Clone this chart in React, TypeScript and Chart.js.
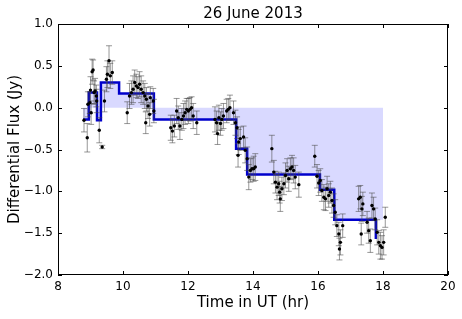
import React, { useEffect, useRef } from "react";
import { Chart, registerables } from "chart.js";

Chart.register(...registerables);

const TITLE = "26 June 2013";
const X_LABEL = "Time in UT (hr)";
const Y_LABEL = "Differential Flux (Jy)";
const X_TICKS = [8, 10, 12, 14, 16, 18, 20];
const Y_TICKS = [-2.0, -1.5, -1.0, -0.5, 0.0, 0.5, 1.0];

// measured points (hours UT, flux Jy, 1-sigma error)
const times = [
  8.80, 8.90, 8.92, 8.98, 9.00, 9.02, 9.05, 9.08, 9.11, 9.14,
  9.18, 9.19, 9.27, 9.36, 9.43, 9.49, 9.52, 9.57, 9.61, 9.67,
  10.13, 10.20, 10.26, 10.31, 10.36, 10.41, 10.46, 10.51, 10.56, 10.62,
  10.67, 10.70, 10.72, 10.77, 10.82, 10.84, 10.93, 10.95, 11.47, 11.52,
  11.58, 11.65, 11.70, 11.75, 11.81, 11.86, 11.91, 11.96, 12.01, 12.06,
  12.11, 12.16, 12.27, 12.83, 12.88, 12.91, 12.95, 13.00, 13.04, 13.09,
  13.19, 13.24, 13.29, 13.40, 13.46, 13.51, 13.54, 13.56, 13.61, 13.71,
  13.76, 13.82, 13.87, 13.92, 13.97, 14.02, 14.07, 14.58, 14.64, 14.69,
  14.74, 14.79, 14.82, 14.84, 14.89, 14.95, 15.00, 15.05, 15.10, 15.15,
  15.20, 15.25, 15.30, 15.41, 15.90, 15.97, 16.02, 16.07, 16.12, 16.18,
  16.23, 16.28, 16.33, 16.38, 16.43, 16.48, 16.53, 16.58, 16.64, 16.66,
  16.69, 16.76, 17.25, 17.30, 17.33, 17.35, 17.38, 17.51, 17.56, 17.61,
  17.66, 17.71, 17.76, 17.82, 17.87, 17.92, 17.97, 18.02, 18.07,
];
const flux = [
  -0.15, -0.36, 0.04, 0.06, 0.21, -0.06, 0.43, 0.45, 0.18, 0.20,
  0.14, 0.08, -0.27, -0.47, 0.08, 0.34, 0.40, 0.56, 0.38, 0.42,
  -0.06, 0.14, 0.18, 0.22, 0.30, 0.26, 0.24, 0.28, 0.22, 0.18,
  0.14, -0.18, 0.10, 0.02, -0.08, 0.12, 0.08, -0.04, -0.24, -0.28,
  -0.22, -0.04, -0.12, -0.22, -0.14, -0.10, -0.06, -0.02, -0.04, -0.02,
  0.00, -0.10, -0.18, -0.14, -0.18, -0.31, -0.12, -0.19, -0.14, -0.10,
  -0.04, -0.02, 0.00, -0.06, -0.18, -0.24, -0.57, -0.41, -0.37, -0.35,
  -0.51, -0.61, -0.83, -0.75, -0.73, -0.73, -0.71, -0.49, -0.77, -0.89,
  -0.95, -0.91, -1.01, -1.09, -0.97, -0.91, -0.81, -0.75, -0.85, -0.73,
  -0.71, -0.75, -0.83, -0.92, -0.58, -0.82, -0.90, -0.87, -0.99, -1.07,
  -1.09, -0.97, -1.05, -1.01, -1.11, -1.17, -1.25, -1.41, -1.51, -1.69,
  -1.61, -1.41, -1.09, -1.07, -1.51, -1.21, -1.15, -1.37, -1.47, -1.59,
  -1.17, -1.21, -1.33, -1.49, -1.61, -1.65, -1.67, -1.61, -1.31,
];
const fluxErr = [
  0.14, 0.17, 0.15, 0.13, 0.16, 0.14, 0.15, 0.12, 0.14, 0.15,
  0.13, 0.14, 0.15, 0.02, 0.13, 0.15, 0.16, 0.18, 0.15, 0.14,
  0.13, 0.15, 0.14, 0.16, 0.15, 0.14, 0.13, 0.15, 0.16, 0.14,
  0.15, 0.13, 0.14, 0.15, 0.14, 0.13, 0.15, 0.14, 0.15, 0.14,
  0.13, 0.15, 0.14, 0.16, 0.13, 0.15, 0.14, 0.13, 0.15, 0.14,
  0.13, 0.15, 0.14, 0.15, 0.14, 0.13, 0.15, 0.14, 0.13, 0.15,
  0.14, 0.13, 0.15, 0.14, 0.15, 0.13, 0.14, 0.15, 0.14, 0.13,
  0.15, 0.14, 0.15, 0.14, 0.13, 0.15, 0.16, 0.16, 0.14, 0.13,
  0.15, 0.14, 0.13, 0.15, 0.14, 0.13, 0.15, 0.14, 0.15, 0.13,
  0.14, 0.15, 0.14, 0.15, 0.13, 0.14, 0.15, 0.14, 0.13, 0.15,
  0.14, 0.15, 0.14, 0.13, 0.15, 0.14, 0.15, 0.13, 0.14, 0.13,
  0.15, 0.14, 0.15, 0.14, 0.13, 0.15, 0.14, 0.13, 0.15, 0.14,
  0.15, 0.14, 0.13, 0.15, 0.14, 0.16, 0.14, 0.15, 0.12,
];

// Bayesian-block style step model: block start times and levels
const blockStart = [8.77, 8.95, 9.20, 9.32, 9.88, 10.95, 13.48, 13.82, 16.06, 16.50, 17.78];
const blockLevel = [-0.14, 0.18, -0.15, 0.30, 0.17, -0.14, -0.49, -0.80, -0.98, -1.34, -1.57];
// shaded region extends to the end of the observing window
const shadeEnd = 18.0;

const FONT = "'DejaVu Sans', sans-serif";

export default function App() {
  const ref = useRef<HTMLCanvasElement | null>(null);

  useEffect(() => {
    document.body.style.margin = "0";
    const canvas = ref.current;
    if (!canvas) return;

    const points = times.map((t, i) => ({ x: t, y: flux[i] }));
    const stepPts = blockStart.map((t, i) => ({ x: t, y: blockLevel[i] }));
    const shadePts = [
      ...blockStart.slice(0, -1).map((t, i) => ({ x: t, y: blockLevel[i] })),
      { x: shadeEnd, y: blockLevel[blockLevel.length - 2] },
    ];

    const errorBars = {
      id: "errorBars",
      afterDatasetDraw(chart: any, args: any) {
        if (args.index !== 1) return;
        const ctx = chart.ctx;
        const xs = chart.scales.x;
        const ys = chart.scales.y;
        ctx.save();
        ctx.strokeStyle = "rgba(70,70,70,0.7)";
        ctx.lineWidth = 0.8;
        times.forEach((t, i) => {
          const px = xs.getPixelForValue(t);
          const top = ys.getPixelForValue(flux[i] + fluxErr[i]);
          const bot = ys.getPixelForValue(flux[i] - fluxErr[i]);
          ctx.beginPath();
          ctx.moveTo(px, top);
          ctx.lineTo(px, bot);
          ctx.moveTo(px - 3, top);
          ctx.lineTo(px + 3, top);
          ctx.moveTo(px - 3, bot);
          ctx.lineTo(px + 3, bot);
          ctx.stroke();
        });
        ctx.restore();
      },
    };

    const frame = {
      id: "frame",
      afterDraw(chart: any) {
        const ctx = chart.ctx;
        const a = chart.chartArea;
        const xs = chart.scales.x;
        const ys = chart.scales.y;
        ctx.save();
        ctx.strokeStyle = "#000";
        ctx.lineWidth = 1;
        ctx.strokeRect(Math.round(a.left) + 0.5, Math.round(a.top) + 0.5, Math.round(a.right - a.left) - 1, Math.round(a.bottom - a.top) - 1);
        const L = 4;
        ctx.beginPath();
        X_TICKS.forEach((v) => {
          const px = Math.round(xs.getPixelForValue(v)) + 0.5;
          ctx.moveTo(px, a.bottom);
          ctx.lineTo(px, a.bottom - L);
          ctx.moveTo(px, a.top);
          ctx.lineTo(px, a.top + L);
        });
        Y_TICKS.forEach((v) => {
          const py = Math.round(ys.getPixelForValue(v)) + 0.5;
          ctx.moveTo(a.left, py);
          ctx.lineTo(a.left + L, py);
          ctx.moveTo(a.right, py);
          ctx.lineTo(a.right - L, py);
        });
        ctx.stroke();

        ctx.fillStyle = "#000";
        ctx.textAlign = "center";
        ctx.textBaseline = "middle";
        const cx = (a.left + a.right) / 2;
        ctx.font = `15px ${FONT}`;
        ctx.fillText(TITLE, cx, 14);
        ctx.fillText(X_LABEL, cx, 303);
        ctx.save();
        ctx.translate(15, (a.top + a.bottom) / 2);
        ctx.rotate(-Math.PI / 2);
        ctx.fillText(Y_LABEL, 0, 0);
        ctx.restore();
        ctx.restore();
      },
    };

    const fmt = (v: number) => {
      const s = Math.abs(v).toFixed(1);
      return v < 0 ? "\u2212" + s : s;
    };

    const chart = new Chart(canvas, {
      type: "scatter",
      data: {
        datasets: [
          {
            label: "data",
            data: points,
            pointRadius: 1.7,
            pointHoverRadius: 1.7,
            backgroundColor: "#000",
            borderColor: "#000",
            borderWidth: 0,
            showLine: false,
          },
          {
            label: "blocks",
            type: "line",
            data: stepPts,
            stepped: "before",
            borderColor: "#0000cc",
            borderWidth: 2.5,
            pointRadius: 0,
            fill: false,
          } as any,
          {
            label: "shade",
            type: "line",
            data: shadePts,
            stepped: "before",
            borderWidth: 0,
            borderColor: "rgba(0,0,0,0)",
            backgroundColor: "rgba(0,0,255,0.15)",
            pointRadius: 0,
            fill: { value: 0 },
          } as any,
        ],
      },
      options: {
        animation: false,
        responsive: false,
        devicePixelRatio: 1,
        layout: { padding: { top: 24, right: 14, left: 0, bottom: 0 } },
        plugins: {
          legend: { display: false },
          tooltip: { enabled: false },
          title: { display: false },
        },
        scales: {
          x: {
            type: "linear",
            min: 8,
            max: 20,
            afterFit: (s: any) => {
              s.height = 44;
            },
            afterBuildTicks: (s: any) => {
              s.ticks = X_TICKS.map((v) => ({ value: v }));
            },
            grid: { display: false, drawTicks: false },
            border: { display: false },
            ticks: {
              padding: 5,
              color: "#000",
              font: { family: FONT, size: 12 },
              callback: (v: any) => String(v),
              maxRotation: 0,
            },
          },
          y: {
            type: "linear",
            min: -2,
            max: 1,
            afterFit: (s: any) => {
              s.width = 58;
            },
            afterBuildTicks: (s: any) => {
              s.ticks = Y_TICKS.map((v) => ({ value: v }));
            },
            grid: { display: false, drawTicks: false },
            border: { display: false },
            ticks: {
              padding: 5,
              color: "#000",
              font: { family: FONT, size: 12 },
              callback: (v: any) => fmt(Number(v)),
            },
          },
        },
      },
      plugins: [errorBars, frame],
    });

    return () => chart.destroy();
  }, []);

  return (
    <div style={{ position: "fixed", left: 0, top: 0, width: 462, height: 319, background: "#fff" }}>
      <canvas ref={ref} width={462} height={319} />
    </div>
  );
}
